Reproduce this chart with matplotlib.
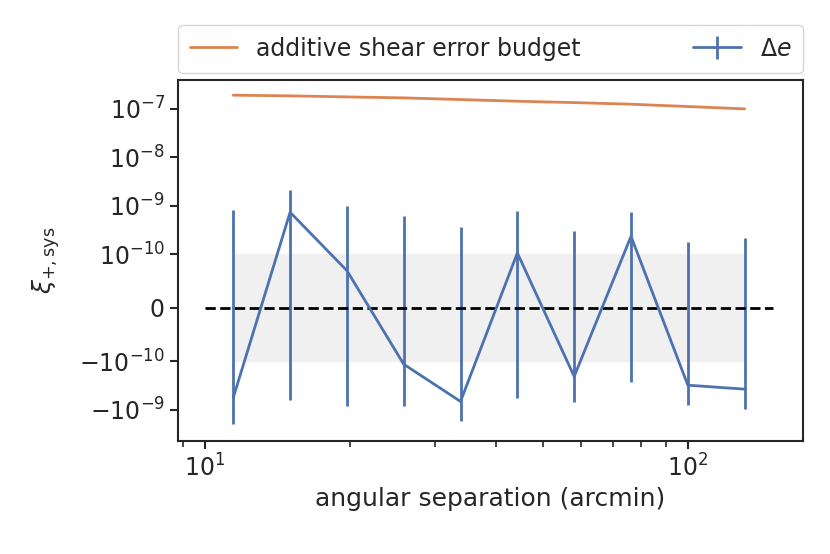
import matplotlib
matplotlib.use("Agg")
import matplotlib.pyplot as plt
import seaborn as sns

# angular bins (arcmin)
theta = [11.45, 15.01, 19.68, 25.80, 33.82, 44.34, 58.13, 76.21, 99.92, 131.0]

# additive shear error budget
budget = [1.92e-7, 1.86e-7, 1.77e-7, 1.69e-7, 1.56e-7, 1.44e-7, 1.35e-7,
          1.25e-7, 1.12e-7, 1.0e-7]

# measured Delta e systematic and its error
xi_sys = [-5.6e-10, 7.3e-10, 6.9e-11, -1.14e-10, -6.7e-10, 1.05e-10,
          -2.04e-10, 2.32e-10, -3.09e-10, -3.73e-10]
xi_err = [1.38e-9, 1.37e-9, 9.1e-10, 7.35e-10, 1.04e-9, 6.85e-10,
          5.0e-10, 4.96e-10, 4.9e-10, 5.9e-10]

linthresh = 1e-10

sns.set_style("ticks")
palette = sns.color_palette("deep")
plt.rcParams["font.size"] = 17

fig = plt.figure(figsize=(8.3, 5.54), dpi=100)
ax = fig.add_axes([0.2145, 0.204, 0.753, 0.652])

ax.fill_between([theta[0], theta[-1]], -linthresh, linthresh,
                color="0.94", zorder=0)
ax.plot(theta, budget, color=palette[1], lw=2,
        label="additive shear error budget")
ax.errorbar(theta, xi_sys, yerr=xi_err, color=palette[0], lw=2,
            elinewidth=2, label=r"$\Delta e$")
ax.plot([10, 150], [0, 0], "k--", lw=2)

ax.set_xscale("log")
ax.set_yscale("symlog", linthresh=linthresh, linscale=1)
ax.set_xlim(8.8, 173)
ax.set_ylim(-4.4e-9, 4e-7)
ax.set_yticks([-1e-9, -1e-10, 0, 1e-10, 1e-9, 1e-8, 1e-7])
ax.yaxis.set_minor_locator(matplotlib.ticker.NullLocator())

for sp in ax.spines.values():
    sp.set_linewidth(1.5)
ax.tick_params(which="major", length=6, width=1.5, labelsize=17)
ax.tick_params(which="minor", length=4, width=1.2)

ax.set_xlabel("angular separation (arcmin)", fontsize=18)
ax.set_ylabel(r"$\xi_{+,\rm sys}$", fontsize=18, labelpad=12)

ax.legend(bbox_to_anchor=(0, 1.02, 1, 0.1), loc="lower left", mode="expand",
          ncol=2, fontsize=17, borderaxespad=0, handlelength=2.0,
          borderpad=0.5)

fig.savefig("out.png", dpi=100)
